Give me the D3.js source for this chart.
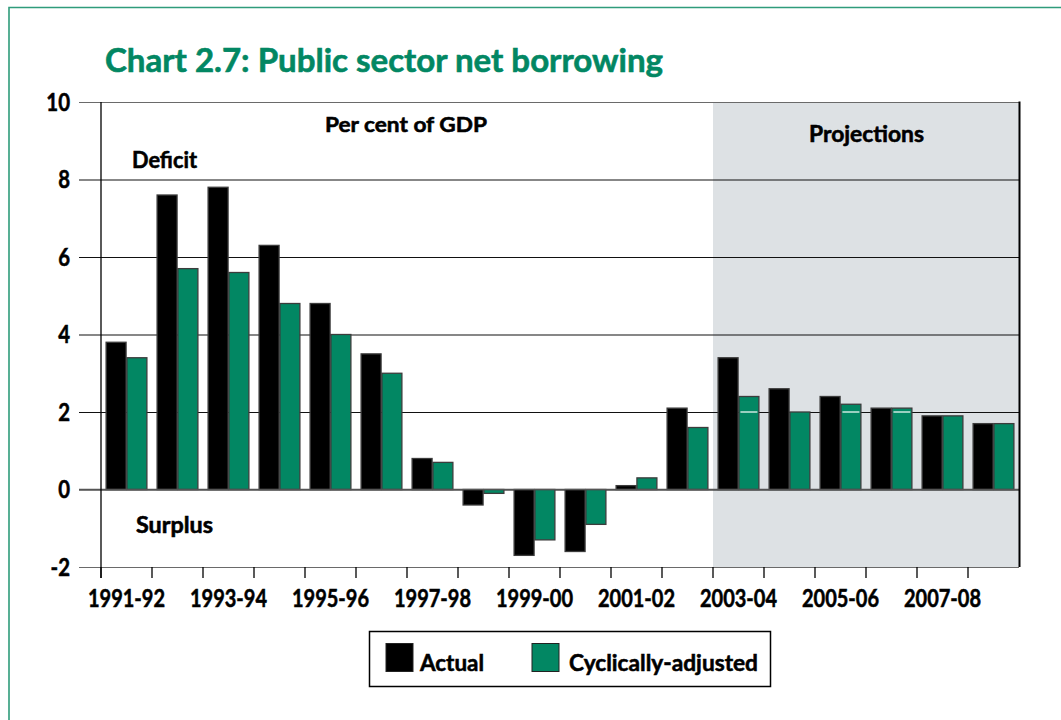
<!DOCTYPE html>
<html>
<head>
<meta charset="utf-8">
<script src="https://cdn.jsdelivr.net/npm/d3@7"></script>
<style>
  body { margin: 0; background: #fff; }
  svg { display: block; }
  text { font-family: Lato, "Open Sans", sans-serif; font-weight: 700; }
  .heavy { stroke: #000; stroke-width: 0.55px; paint-order: stroke; }
</style>
</head>
<body>
<svg id="chart" width="1061" height="720"></svg>
<script>
// Public sector net borrowing, per cent of GDP
const years = ["1991-92","1992-93","1993-94","1994-95","1995-96","1996-97","1997-98","1998-99","1999-00",
               "2000-01","2001-02","2002-03","2003-04","2004-05","2005-06","2006-07","2007-08","2008-09"];
const actual    = [3.8, 7.6, 7.8, 6.3, 4.8, 3.5, 0.8, -0.4, -1.7, -1.6, 0.1, 2.1, 3.4, 2.6, 2.4, 2.1, 1.9, 1.7];
const cyclical  = [3.4, 5.7, 5.6, 4.8, 4.0, 3.0, 0.7, -0.1, -1.3, -0.9, 0.3, 1.6, 2.4, 2.0, 2.2, 2.1, 1.9, 1.7];
const seriesNames = ["Actual", "Cyclically-adjusted"];
const yTicks = [-2, 0, 2, 4, 6, 8, 10];
const xLabelYears = ["1991-92","1993-94","1995-96","1997-98","1999-00","2001-02","2003-04","2005-06","2007-08"];
const projectionStart = "2003-04";

const GREEN = "#028763";
const svg = d3.select("#chart");

// squeeze a text horizontally to a given fraction of its natural width
function condense(sel, k) {
  sel.each(function () {
    const w = this.getComputedTextLength();
    this.setAttribute("textLength", (w * k).toFixed(1));
    this.setAttribute("lengthAdjust", "spacingAndGlyphs");
  });
}
function fitWidth(sel, w) {
  sel.attr("textLength", w).attr("lengthAdjust", "spacingAndGlyphs");
}

// outer frame (top and left edges fall inside the page)
svg.append("path")
  .attr("d", "M9,720 V7.5 H1061")
  .attr("fill", "none")
  .attr("stroke", "#2f9c7b")
  .attr("stroke-width", 1.6);

// title
svg.append("text")
  .attr("x", 105).attr("y", 72)
  .attr("font-size", 33)
  .attr("fill", GREEN)
  .attr("stroke", GREEN)
  .attr("stroke-width", 0.6)
  .text("Chart 2.7: Public sector net borrowing")
  .call(fitWidth, 558);

const left = 101, right = 1019;

const x = d3.scaleBand().domain(years).range([left, right]).paddingInner(0.2).paddingOuter(0.1);
const xs = d3.scaleBand().domain(seriesNames).range([0, x.bandwidth()]).paddingInner(0.04);
const y = d3.scaleLinear().domain([-2, 10]).range([567, 102]);
const boundary = d => x(d) - x.step() * x.paddingOuter();

// projections shading
svg.append("rect")
  .attr("x", boundary(projectionStart))
  .attr("y", y(10))
  .attr("width", right - boundary(projectionStart))
  .attr("height", y(-2) - y(10))
  .attr("fill", "#dde1e4");

// y axis with gridlines spanning the plot
const yAxis = d3.axisLeft(y)
  .tickValues(yTicks)
  .tickSize(right - 79)
  .tickPadding(9)
  .tickFormat(d => String(d));

const gy = svg.append("g")
  .attr("transform", `translate(${right},0)`)
  .call(yAxis);
gy.select(".domain").remove();
gy.selectAll(".tick line")
  .attr("stroke", d => (d === 10 || d === -2) ? "#6a6a6a" : "#111")
  .attr("stroke-width", 1.1);
gy.selectAll(".tick text")
  .attr("class", "heavy")
  .attr("font-size", 24)
  .attr("font-family", "Lato, sans-serif")
  .attr("font-weight", 700)
  .attr("fill", "#000")
  .attr("dy", "0.35em")
  .call(condense, 0.85);

// bars
const rows = years.map((yr, i) => ({ year: yr, values: [actual[i], cyclical[i]] }));
const colour = d3.scaleOrdinal().domain(seriesNames).range(["#000000", GREEN]);

const groups = svg.append("g").selectAll("g")
  .data(rows)
  .join("g")
  .attr("transform", d => `translate(${x(d.year)},0)`);

groups.selectAll("rect")
  .data(d => seriesNames.map((s, j) => ({ series: s, value: d.values[j], year: d.year })))
  .join("rect")
  .attr("x", d => xs(d.series))
  .attr("width", xs.bandwidth())
  .attr("y", d => Math.min(y(d.value), y(0)))
  .attr("height", d => Math.abs(y(d.value) - y(0)))
  .attr("fill", d => colour(d.series))
  .attr("stroke", "#3c3c3c")
  .attr("stroke-width", 1.3);

// light rule across the projected cyclically-adjusted bars at the 2 per cent line
const projIndex = years.indexOf(projectionStart);
groups.filter((d, i) => i >= projIndex)
  .selectAll("line.rule")
  .data(d => [{ series: seriesNames[1], value: d.values[1] }].filter(e => e.value > 2.05))
  .join("line")
  .attr("class", "rule")
  .attr("x1", d => xs(d.series) + 1.5)
  .attr("x2", d => xs(d.series) + xs.bandwidth() - 1.5)
  .attr("y1", y(2)).attr("y2", y(2))
  .attr("stroke", "#fff")
  .attr("stroke-width", 1.2);

// zero line
svg.append("line")
  .attr("x1", 79).attr("x2", right)
  .attr("y1", y(0)).attr("y2", y(0))
  .attr("stroke", "#555").attr("stroke-width", 1.4);

// left axis line and right border
svg.append("line")
  .attr("x1", left).attr("x2", left)
  .attr("y1", y(10)).attr("y2", y(-2) + 11)
  .attr("stroke", "#000").attr("stroke-width", 1.3);
svg.append("line")
  .attr("x1", right + 0.5).attr("x2", right + 0.5)
  .attr("y1", y(10) - 0.5).attr("y2", y(-2))
  .attr("stroke", "#000").attr("stroke-width", 2);

// x ticks at category boundaries
svg.append("g").selectAll("line")
  .data(years)
  .join("line")
  .attr("x1", d => boundary(d)).attr("x2", d => boundary(d))
  .attr("y1", y(-2)).attr("y2", y(-2) + 11)
  .attr("stroke", "#000").attr("stroke-width", 1.3);

// x labels on alternate years
svg.append("g").selectAll("text")
  .data(xLabelYears)
  .join("text")
  .attr("class", "heavy")
  .attr("x", d => x(d) + x.bandwidth() / 2)
  .attr("y", 607)
  .attr("text-anchor", "middle")
  .attr("font-size", 25)
  .attr("fill", "#000")
  .text(d => d)
  .call(condense, 0.8);

// annotations
const notes = [
  { text: "Per cent of GDP", x: 325, y: 132, size: 21, w: 162 },
  { text: "Deficit",         x: 132, y: 168, size: 22, w: 65 },
  { text: "Surplus",         x: 136, y: 533, size: 22, w: 77 },
  { text: "Projections",     x: 809, y: 142, size: 22, w: 115 }
];
svg.append("g").selectAll("text")
  .data(notes)
  .join("text")
  .attr("class", "heavy")
  .attr("x", d => d.x).attr("y", d => d.y)
  .attr("font-size", d => d.size)
  .attr("fill", "#000")
  .attr("textLength", d => d.w)
  .attr("lengthAdjust", "spacingAndGlyphs")
  .text(d => d.text);

// legend
const legend = svg.append("g");
legend.append("rect")
  .attr("x", 369.5).attr("y", 631.5)
  .attr("width", 401).attr("height", 55)
  .attr("fill", "#fff").attr("stroke", "#000").attr("stroke-width", 1.5);

const legendItems = [
  { name: seriesNames[0], sx: 386, tx: 420, w: 64 },
  { name: seriesNames[1], sx: 532, tx: 569, w: 189 }
];
const li = legend.selectAll("g.item").data(legendItems).join("g").attr("class", "item");
li.append("rect")
  .attr("x", d => d.sx).attr("y", 643.5)
  .attr("width", 27).attr("height", 28)
  .attr("fill", d => colour(d.name))
  .attr("stroke", "#222").attr("stroke-width", 1);
li.append("text")
  .attr("class", "heavy")
  .attr("x", d => d.tx).attr("y", 671)
  .attr("font-size", 23)
  .attr("fill", "#000")
  .attr("textLength", d => d.w)
  .attr("lengthAdjust", "spacingAndGlyphs")
  .text(d => d.name);
</script>
</body>
</html>
